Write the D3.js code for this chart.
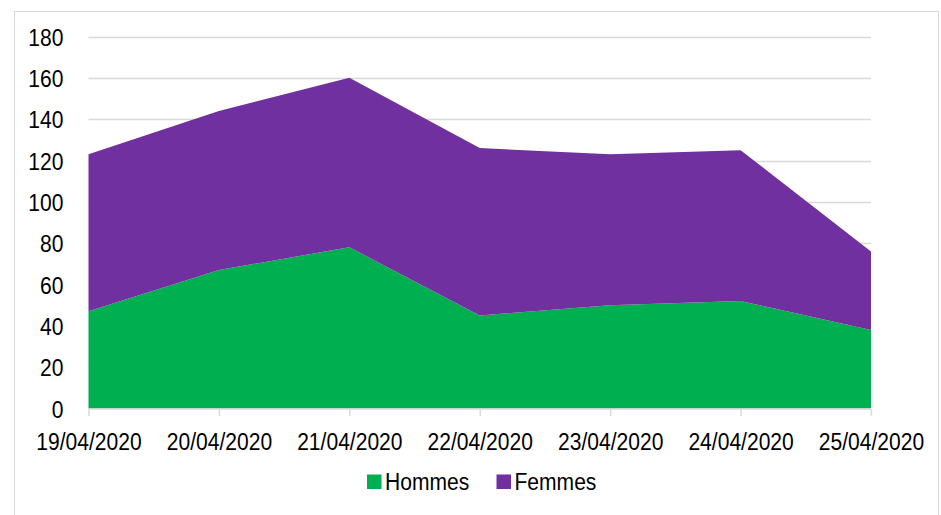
<!DOCTYPE html>
<html><head><meta charset="utf-8">
<script src="https://cdn.jsdelivr.net/npm/d3@7"></script>
<style>
html,body{margin:0;padding:0;background:#fff;}
svg text{font-family:"Liberation Sans",Arial,sans-serif;fill:#000;}
</style></head>
<body>
<svg id="chart" width="941" height="515"></svg>
<script>
const dates = ["19/04/2020","20/04/2020","21/04/2020","22/04/2020","23/04/2020","24/04/2020","25/04/2020"];
const hommes = [47, 67, 78, 45, 50, 52, 38];
const femmes = [76, 77, 82, 81, 73, 73, 38];
const seriesNames = ["Hommes","Femmes"];
const seriesColors = ["#00B050","#7030A0"];
const yTicks = [0,20,40,60,80,100,120,140,160,180];

const FS = 24.5, SX = 0.86;
const svg = d3.select("#chart");
svg.append("rect").attr("x",14.5).attr("y",11.5).attr("width",924).attr("height",520)
  .attr("fill","#fff").attr("stroke","#d9d9d9").attr("stroke-width",1);

const x = d3.scalePoint().domain(dates).range([88.5, 871]);
const y = d3.scaleLinear().domain([0,180]).range([408.5, 36.5]);

// gridlines
svg.append("g").selectAll("line").data(yTicks.filter(d=>d>0)).join("line")
  .attr("x1",88.5).attr("x2",871).attr("y1",d=>Math.round(y(d))+0.5).attr("y2",d=>Math.round(y(d))+0.5)
  .attr("stroke","#d9d9d9").attr("stroke-width",1.5);

const table = dates.map((d,i)=>({date:d, Hommes:hommes[i], Femmes:femmes[i]}));
const stack = d3.stack().keys(seriesNames)(table);
const area = d3.area().x(d=>x(d.data.date)).y0(d=>y(d[0])).y1(d=>y(d[1]));
svg.append("g").selectAll("path").data(stack).join("path")
  .attr("d",area).attr("fill",(d,i)=>seriesColors[i]);

// x axis
const xAxis = svg.append("g").attr("transform","translate(0,409)")
  .call(d3.axisBottom(x).tickSize(7));
xAxis.select(".domain").attr("stroke","#d9d9d9").attr("stroke-width",1.5).attr("d","M88.5,0H871");
xAxis.selectAll(".tick line").attr("stroke","#d9d9d9").attr("stroke-width",1.5);
xAxis.selectAll(".tick text").attr("font-size",FS).attr("fill","#000")
  .attr("y",41).attr("dy",null).attr("transform",`scale(${SX},1)`);

// y axis labels
const yAxis = svg.append("g").attr("transform","translate(63.5,0)")
  .call(d3.axisLeft(y).tickValues(yTicks).tickSize(0).tickPadding(0));
yAxis.select(".domain").remove();
yAxis.selectAll(".tick text").attr("font-size",FS).attr("fill","#000")
  .attr("x",0).attr("dy",null).attr("y",8.7).attr("transform",`scale(${SX},1)`);

// legend
const legendX = [367, 496.5];
const lg = svg.append("g");
seriesNames.forEach((n,i)=>{
  lg.append("rect").attr("x",legendX[i]).attr("y",474.5).attr("width",14.5).attr("height",14.5).attr("fill",seriesColors[i]);
  lg.append("text").attr("transform",`translate(${legendX[i]+18},490) scale(${SX},1)`)
    .attr("font-size",FS).text(n);
});
</script>
</body></html>
